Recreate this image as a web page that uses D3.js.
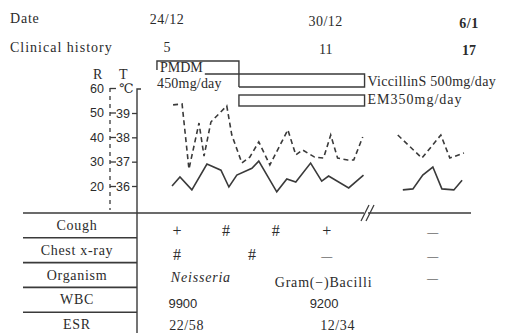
<!DOCTYPE html>
<html><head><meta charset="utf-8">
<script src="https://cdn.jsdelivr.net/npm/d3@7"></script>
<style>
html,body{margin:0;padding:0;background:#fff;}
svg{display:block;}
.serif{font-family:"Liberation Serif","DejaVu Serif",serif;}
.sans{font-family:"Liberation Sans",Arial,sans-serif;}
</style></head>
<body>
<svg id="c" width="506" height="333"></svg>
<script>
// ---- data ----
const dateLabels = ["24/12", "30/12", "6/1"];
const dateDays = [5, 11, 17];
const clinicalDays = ["5", "11", "17"];

// Temperature (°C), solid line, two segments (before / after break)
const tempDays1 = [5.19, 5.49, 5.94, 6.51, 7.04, 7.34, 7.64, 8.21, 8.47, 9.15, 9.53, 9.87, 10.43, 10.85, 11.11, 11.87, 12.43];
const tempVals1 = [36.0, 36.37, 35.84, 36.9, 36.65, 35.96, 36.45, 36.73, 37.02, 35.76, 36.29, 36.16, 36.94, 36.2, 36.41, 35.92, 36.45];
const tempDays2 = [14.51, 14.89, 15.26, 15.64, 15.98, 16.43, 16.74];
const tempVals2 = [35.84, 35.88, 36.45, 36.78, 35.88, 35.84, 36.24];

// Respiration rate (R), dashed line
const respDays1 = [5.23, 5.57, 5.83, 6.21, 6.40, 6.66, 6.92, 7.26, 7.45, 7.83, 8.13, 8.47, 8.89, 9.57, 9.87, 10.13, 10.58, 10.92, 11.19, 11.45, 11.83, 12.06, 12.40];
const respVals1 = [53.1, 53.5, 26.9, 45.7, 32.2, 46.1, 49.0, 52.7, 40.8, 29.4, 31.8, 38.0, 28.6, 42.9, 32.7, 34.7, 31.8, 31.4, 40.8, 31.4, 30.6, 30.6, 40.0];
const respDays2 = [14.32, 15.23, 15.94, 16.28, 16.81];
const respVals2 = [40.8, 31.4, 40.8, 31.4, 33.5];

const rTicks = [20, 30, 40, 50, 60];
const tTicks = [36, 37, 38, 39];

// Drugs
const drugNames = ["PMDM", "ViccillinS 500mg/day", "EM350mg/day"];
const drugDose = ["450mg/day", "", ""];
const drugStart = [4.62, 7.72, 7.72];
const drugEnd = [7.72, 12.47, 12.47];
const drugTopStart = [4.62, 6.43, 7.72];

// Table
const rowLabels = ["Cough", "Chest x-ray", "Organism", "WBC", "ESR"];
const coughDays = [5.38, 7.23, 9.11, 11.04, 15.64];
const coughVals = ["+", "#", "#", "+", "—"];
const chestDays = [5.38, 8.21, 11.04, 15.64];
const chestVals = ["#", "#", "—", "—"];
const organismDays = [6.28, 10.92, 15.64];
const organismVals = ["Neisseria", "Gram(−)Bacilli", "—"];
const wbcDays = [5.6, 10.94];
const wbcVals = ["9900", "9200"];
const esrDays = [5.74, 11.45];
const esrVals = ["22/58", "12/34"];

// ---- drawing ----
const svg = d3.select("#c");
const ink = "#2b2b2b";
const lineInk = "#3a3a3a";

// x scale with a hidden break between ~12.6 and ~13.2 days
const x = d3.scaleLinear().domain([5, 12.6, 13.2, 17]).range([167, 368, 368, 469]);
const yT = d3.scaleLinear().domain([36, 39]).range([186, 113]);
const yR = d3.scaleLinear().domain([20, 60]).range([186, 88]);

const rAxisX = 110, tAxisX = 137;
const tableTop = 213, rowH = 24.8;
const tableLeft = 23, tableRight = 471, breakX = 368;

// header
svg.append("text").attr("class","serif").attr("x",10).attr("y",23)
  .attr("font-size",14).attr("letter-spacing",0.8).attr("fill",ink).text("Date");
svg.append("text").attr("class","serif").attr("x",10).attr("y",52)
  .attr("font-size",14).attr("letter-spacing",1.0).attr("fill",ink).text("Clinical history");
svg.selectAll(".dl").data(dateLabels).join("text").attr("class","serif")
  .attr("x",(d,i)=>x(dateDays[i])).attr("y",(d,i)=>24+i*2)
  .attr("text-anchor","middle").attr("font-size",14).attr("letter-spacing",0.5)
  .attr("font-weight",(d,i)=>i===2?"bold":"normal").attr("fill",ink).text(d=>d);
svg.selectAll(".cl").data(clinicalDays).join("text").attr("class","serif")
  .attr("x",(d,i)=>x(dateDays[i])).attr("y",(d,i)=>52+i*1.5)
  .attr("text-anchor","middle").attr("font-size",14)
  .attr("font-weight",(d,i)=>i===2?"bold":"normal").attr("fill",ink).text(d=>d);

// drug boxes
const g = svg.append("g").attr("fill","none").attr("stroke",lineInk).attr("stroke-width",1.4);
g.append("path").attr("d",`M${x(drugStart[0])},70 V61 H${x(drugEnd[0])} V87`);
g.append("path").attr("d",`M${x(drugTopStart[1])},74 H${x(drugEnd[1])} V87 H${x(drugStart[1])}`);
g.append("rect").attr("x",x(drugStart[2])).attr("y",95)
  .attr("width",x(drugEnd[2])-x(drugStart[2])).attr("height",11);

svg.append("text").attr("class","serif").attr("x",x(drugStart[0])+3).attr("y",72)
  .attr("font-size",14).attr("fill",ink).text(drugNames[0]);
svg.append("text").attr("class","serif").attr("x",x(drugStart[0])).attr("y",88)
  .attr("font-size",14).attr("letter-spacing",0.2).attr("fill",ink).text(drugDose[0]);
svg.append("text").attr("class","serif").attr("x",x(drugEnd[1])+3).attr("y",86)
  .attr("font-size",14).attr("letter-spacing",0.3).attr("fill",ink).text(drugNames[1]);
svg.append("text").attr("class","serif").attr("x",x(drugEnd[2])+3).attr("y",104)
  .attr("font-size",14).attr("letter-spacing",1.0).attr("fill",ink).text(drugNames[2]);

// axis titles
svg.append("text").attr("class","serif").attr("x",93).attr("y",79)
  .attr("font-size",14).attr("fill",ink).text("R");
svg.append("text").attr("class","serif").attr("x",119).attr("y",79)
  .attr("font-size",14).attr("fill",ink).text("T");
svg.append("text").attr("class","serif").attr("x",119).attr("y",93)
  .attr("font-size",13).attr("fill",ink).text("℃");

// R axis (dashed)
const rAxis = svg.append("g").attr("transform",`translate(${rAxisX},0)`)
  .call(d3.axisLeft(yR).tickValues(rTicks).tickFormat(d3.format("d")).tickSizeInner(-6).tickSizeOuter(0).tickPadding(6));
rAxis.select(".domain").remove();
rAxis.attr("font-family",null).attr("font-size",null);
rAxis.selectAll("line").attr("stroke",lineInk).attr("stroke-width",1.3);
rAxis.selectAll("text").attr("class","sans").attr("font-size",12.5).attr("fill",ink);
svg.append("line").attr("x1",rAxisX).attr("x2",rAxisX).attr("y1",88).attr("y2",210)
  .attr("stroke",lineInk).attr("stroke-width",1.3).attr("stroke-dasharray","4,4");

// T axis
const tAxis = svg.append("g").attr("transform",`translate(${tAxisX},0)`)
  .call(d3.axisLeft(yT).tickValues(tTicks).tickFormat(d3.format("d")).tickSizeInner(5).tickSizeOuter(0).tickPadding(2));
tAxis.select(".domain").remove();
tAxis.attr("font-family",null).attr("font-size",null);
tAxis.selectAll("line").attr("stroke",lineInk).attr("stroke-width",1.3);
tAxis.selectAll("text").attr("class","sans").attr("font-size",12.5).attr("fill",ink);
svg.append("path").attr("d",`M${tAxisX+4},${yR(60)+1} H${tAxisX} V333`)
  .attr("fill","none").attr("stroke",lineInk).attr("stroke-width",1.4);

// lines
const tLine = d3.line().x(d=>x(d[0])).y(d=>yT(d[1]));
const rLine = d3.line().x(d=>x(d[0])).y(d=>yR(d[1]));
[[tempDays1,tempVals1],[tempDays2,tempVals2]].forEach(([ds,vs])=>{
  svg.append("path").datum(ds.map((d,i)=>[d,vs[i]])).attr("d",tLine)
    .attr("fill","none").attr("stroke",lineInk).attr("stroke-width",1.6).attr("stroke-linejoin","miter");
});
[[respDays1,respVals1],[respDays2,respVals2]].forEach(([ds,vs])=>{
  svg.append("path").datum(ds.map((d,i)=>[d,vs[i]])).attr("d",rLine)
    .attr("fill","none").attr("stroke",lineInk).attr("stroke-width",1.6).attr("stroke-dasharray","5,3.5");
});

// table lines
const tl = svg.append("g").attr("stroke",lineInk).attr("stroke-width",1.6);
tl.append("line").attr("x1",tableLeft).attr("x2",tableRight).attr("y1",tableTop).attr("y2",tableTop);
for (let i=1;i<rowLabels.length;i++){
  tl.append("line").attr("x1",tableLeft).attr("x2",tAxisX).attr("y1",tableTop+i*rowH).attr("y2",tableTop+i*rowH);
}
// break marks
svg.append("rect").attr("x",breakX-4).attr("y",tableTop-2).attr("width",4).attr("height",4).attr("fill","#fff");
const bk = svg.append("g").attr("stroke",lineInk).attr("stroke-width",1.2);
bk.append("line").attr("x1",breakX-7).attr("y1",tableTop+8).attr("x2",breakX+1).attr("y2",tableTop-8);
bk.append("line").attr("x1",breakX-2).attr("y1",tableTop+8).attr("x2",breakX+6).attr("y2",tableTop-8);

// row labels
svg.selectAll(".rl").data(rowLabels).join("text").attr("class","serif")
  .attr("x",77).attr("y",(d,i)=>tableTop+i*rowH+17)
  .attr("text-anchor","middle").attr("font-size",14).attr("letter-spacing",0.7)
  .attr("fill",ink).text(d=>d);

function rowValues(days, vals, row, opts){
  svg.selectAll(null).data(vals).join("text")
    .attr("class", opts.cls || "serif")
    .attr("x",(d,i)=>x(days[i]))
    .attr("y",(d,i)=>tableTop+row*rowH+(opts.dy||18)+((opts.dys||[])[i]||0))
    .attr("text-anchor","middle")
    .attr("font-size",(d)=> (d==="—"?11:(d==="#"||d==="+")?16:(opts.fs||14)))
    .attr("font-style",(d,i)=>(opts.italic&&opts.italic[i])?"italic":"normal")
    .attr("letter-spacing",opts.ls||0)
    .attr("fill",ink).text(d=>d);
}
rowValues(coughDays, coughVals, 0, {dy:23, fs:14});
rowValues(chestDays, chestVals, 1, {dy:22, fs:14});
rowValues(organismDays, organismVals, 2, {dy:19, ls:0.8, italic:[true,false,false], dys:[0,5,0]});
rowValues(wbcDays, wbcVals, 3, {dy:21, cls:"sans", fs:13});
rowValues(esrDays, esrVals, 4, {dy:18, fs:14, ls:0.6});
</script>
</body></html>
